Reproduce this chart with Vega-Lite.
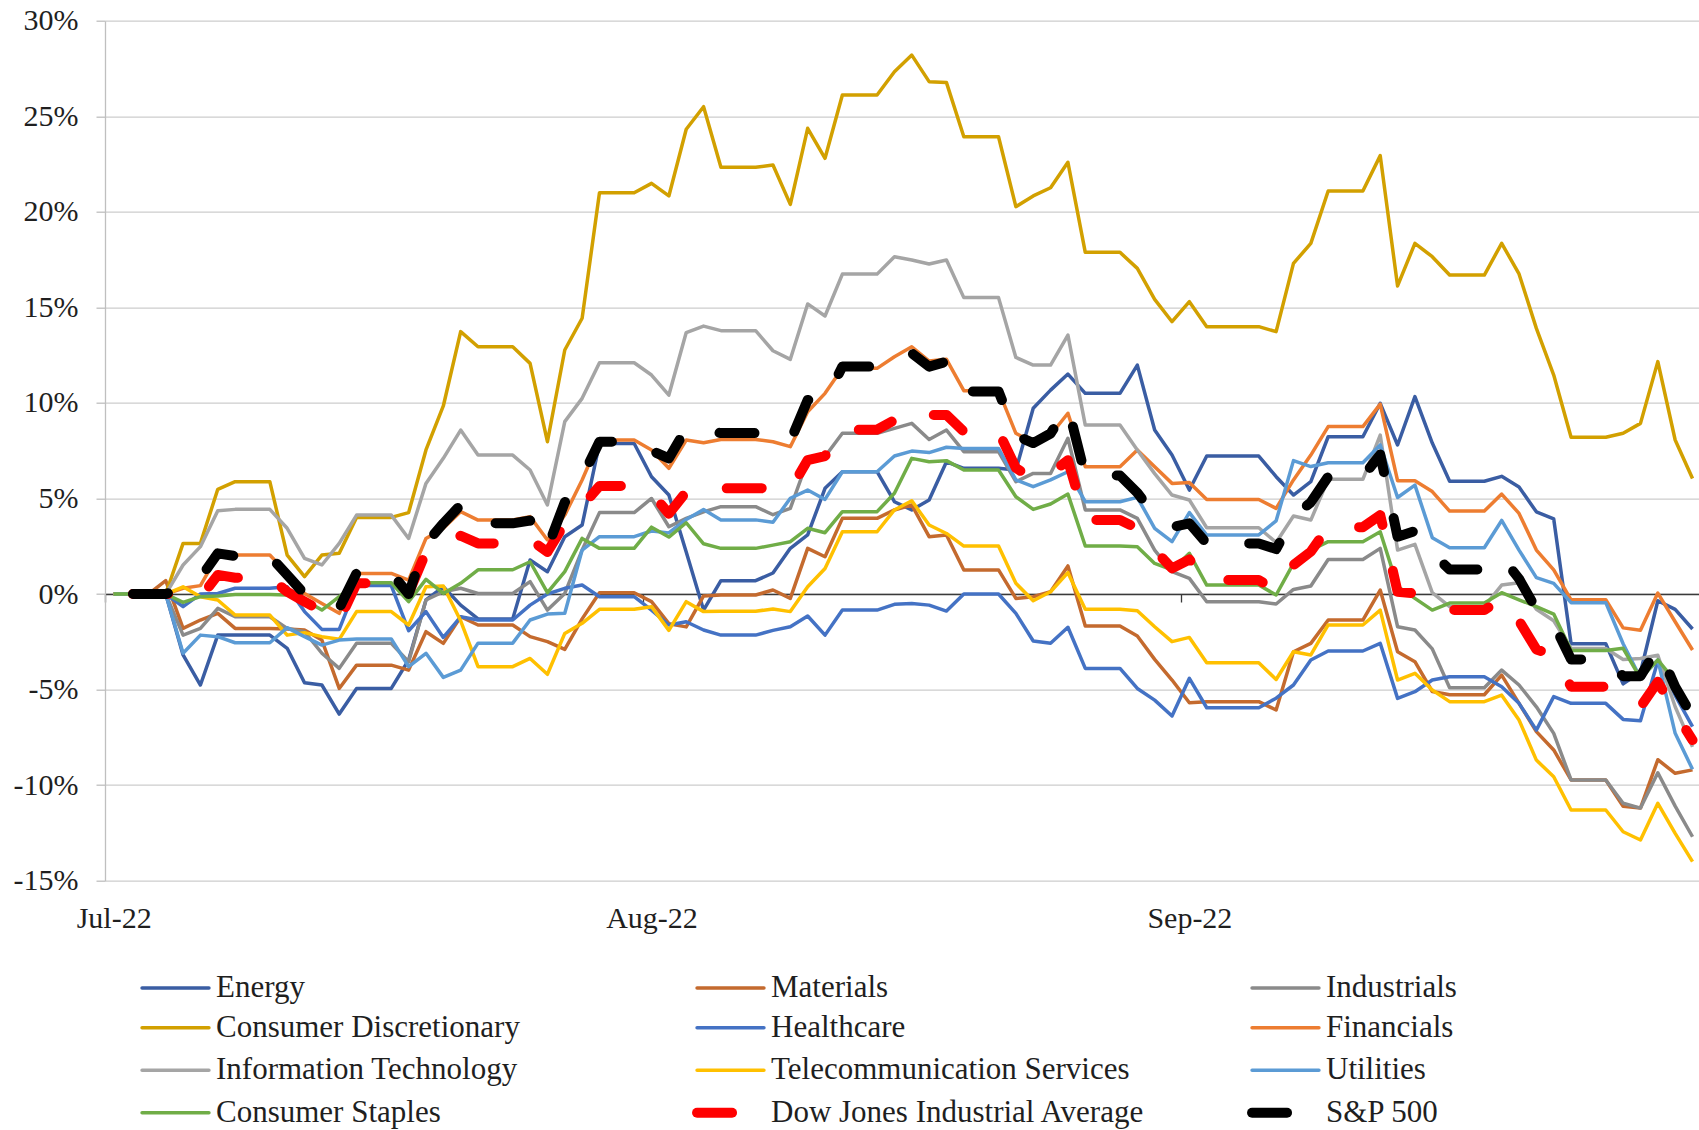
{
"$schema": "https://vega.github.io/schema/vega-lite/v6.json",
"width": 1594, "height": 860,
"autosize": "none",
"padding": {"left": 105, "top": 20.7, "right": 0, "bottom": 249.3},
"config": {"view": {"stroke": null}, "font": "Liberation Serif"},
"data": {"values": [
{"d":"2022-07-01","Energy":0,"Materials":0,"Industrials":0,"Consumer Discretionary":0,"Healthcare":0,"Financials":0,"Information Technology":0,"Telecommunication Services":0,"Utilities":0,"Consumer Staples":0,"Dow Jones Industrial Average":0,"S&P 500":0},
{"d":"2022-07-02","Energy":0,"Materials":0,"Industrials":0,"Consumer Discretionary":0,"Healthcare":0,"Financials":0,"Information Technology":0,"Telecommunication Services":0,"Utilities":0,"Consumer Staples":0,"Dow Jones Industrial Average":0,"S&P 500":0},
{"d":"2022-07-03","Energy":0,"Materials":0,"Industrials":0,"Consumer Discretionary":0,"Healthcare":0,"Financials":0,"Information Technology":0,"Telecommunication Services":0,"Utilities":0,"Consumer Staples":0,"Dow Jones Industrial Average":0,"S&P 500":0},
{"d":"2022-07-04","Energy":0,"Materials":0.7,"Industrials":0,"Consumer Discretionary":0,"Healthcare":0,"Financials":0,"Information Technology":0,"Telecommunication Services":0,"Utilities":0,"Consumer Staples":0,"Dow Jones Industrial Average":0,"S&P 500":0},
{"d":"2022-07-05","Energy":-3.19,"Materials":-1.8,"Industrials":-2.15,"Consumer Discretionary":2.65,"Healthcare":-0.66,"Financials":0.3,"Information Technology":1.52,"Telecommunication Services":0.38,"Utilities":-3.1,"Consumer Staples":-0.44,"Dow Jones Industrial Average":0,"S&P 500":0.3},
{"d":"2022-07-06","Energy":-4.76,"Materials":-1.36,"Industrials":-1.8,"Consumer Discretionary":2.65,"Healthcare":0,"Financials":0.44,"Information Technology":2.48,"Telecommunication Services":-0.14,"Utilities":-2.15,"Consumer Staples":-0.14,"Dow Jones Industrial Average":-0.2,"S&P 500":0.85},
{"d":"2022-07-07","Energy":-2.15,"Materials":-1.01,"Industrials":-0.75,"Consumer Discretionary":5.48,"Healthcare":0.03,"Financials":2.04,"Information Technology":4.36,"Telecommunication Services":-0.31,"Utilities":-2.23,"Consumer Staples":-0.1,"Dow Jones Industrial Average":1,"S&P 500":2.13},
{"d":"2022-07-08","Energy":-2.15,"Materials":-1.8,"Industrials":-1.19,"Consumer Discretionary":5.88,"Healthcare":0.3,"Financials":2.04,"Information Technology":4.43,"Telecommunication Services":-1.1,"Utilities":-2.55,"Consumer Staples":-0.02,"Dow Jones Industrial Average":0.85,"S&P 500":1.99},
{"d":"2022-07-09","Energy":-2.15,"Materials":-1.8,"Industrials":-1.19,"Consumer Discretionary":5.88,"Healthcare":0.3,"Financials":2.04,"Information Technology":4.43,"Telecommunication Services":-1.1,"Utilities":-2.55,"Consumer Staples":-0.02,"Dow Jones Industrial Average":0.85,"S&P 500":1.99},
{"d":"2022-07-10","Energy":-2.15,"Materials":-1.8,"Industrials":-1.19,"Consumer Discretionary":5.88,"Healthcare":0.3,"Financials":2.04,"Information Technology":4.43,"Telecommunication Services":-1.1,"Utilities":-2.55,"Consumer Staples":-0.02,"Dow Jones Industrial Average":0.85,"S&P 500":1.99},
{"d":"2022-07-11","Energy":-2.84,"Materials":-1.83,"Industrials":-1.8,"Consumer Discretionary":2.04,"Healthcare":0.38,"Financials":1.08,"Information Technology":3.44,"Telecommunication Services":-2.15,"Utilities":-1.76,"Consumer Staples":-0.05,"Dow Jones Industrial Average":0.12,"S&P 500":1},
{"d":"2022-07-12","Energy":-4.64,"Materials":-1.88,"Industrials":-1.97,"Consumer Discretionary":0.91,"Healthcare":-0.92,"Financials":0.03,"Information Technology":1.87,"Telecommunication Services":-2.02,"Utilities":-2.23,"Consumer Staples":-0.31,"Dow Jones Industrial Average":-0.4,"S&P 500":0},
{"d":"2022-07-13","Energy":-4.76,"Materials":-2.41,"Industrials":-3.1,"Consumer Discretionary":2.04,"Healthcare":-1.85,"Financials":-0.49,"Information Technology":1.52,"Telecommunication Services":-2.23,"Utilities":-2.67,"Consumer Staples":-0.84,"Dow Jones Industrial Average":-0.9,"S&P 500":-0.4},
{"d":"2022-07-14","Energy":-6.28,"Materials":-4.94,"Industrials":-3.89,"Consumer Discretionary":2.13,"Healthcare":-1.85,"Financials":-1.01,"Information Technology":2.65,"Telecommunication Services":-2.37,"Utilities":-2.41,"Consumer Staples":-0.14,"Dow Jones Industrial Average":-1.4,"S&P 500":-0.75},
{"d":"2022-07-15","Energy":-4.94,"Materials":-3.72,"Industrials":-2.58,"Consumer Discretionary":4.01,"Healthcare":0.44,"Financials":1.08,"Information Technology":4.13,"Telecommunication Services":-0.92,"Utilities":-2.35,"Consumer Staples":0.59,"Dow Jones Industrial Average":0.56,"S&P 500":1.1},
{"d":"2022-07-16","Energy":-4.94,"Materials":-3.72,"Industrials":-2.58,"Consumer Discretionary":4.01,"Healthcare":0.44,"Financials":1.08,"Information Technology":4.13,"Telecommunication Services":-0.92,"Utilities":-2.35,"Consumer Staples":0.59,"Dow Jones Industrial Average":0.56,"S&P 500":1.1},
{"d":"2022-07-17","Energy":-4.94,"Materials":-3.72,"Industrials":-2.58,"Consumer Discretionary":4.01,"Healthcare":0.44,"Financials":1.08,"Information Technology":4.13,"Telecommunication Services":-0.92,"Utilities":-2.35,"Consumer Staples":0.59,"Dow Jones Industrial Average":0.56,"S&P 500":1.1},
{"d":"2022-07-18","Energy":-3.45,"Materials":-3.98,"Industrials":-3.54,"Consumer Discretionary":4.26,"Healthcare":-1.92,"Financials":0.73,"Information Technology":2.91,"Telecommunication Services":-1.62,"Utilities":-3.8,"Consumer Staples":-0.4,"Dow Jones Industrial Average":0.03,"S&P 500":0},
{"d":"2022-07-19","Energy":-0.31,"Materials":-1.97,"Industrials":-0.31,"Consumer Discretionary":7.54,"Healthcare":-0.92,"Financials":2.91,"Information Technology":5.79,"Telecommunication Services":0.38,"Utilities":-3.1,"Consumer Staples":0.77,"Dow Jones Industrial Average":2.2,"S&P 500":2.65},
{"d":"2022-07-20","Energy":0.38,"Materials":-2.58,"Industrials":0.12,"Consumer Discretionary":9.84,"Healthcare":-2.27,"Financials":3.44,"Information Technology":7.1,"Telecommunication Services":0.42,"Utilities":-4.36,"Consumer Staples":0.03,"Dow Jones Industrial Average":2.5,"S&P 500":3.7},
{"d":"2022-07-21","Energy":-0.58,"Materials":-1.19,"Industrials":0.3,"Consumer Discretionary":13.73,"Healthcare":-1.19,"Financials":4.31,"Information Technology":8.58,"Telecommunication Services":-1.4,"Utilities":-3.98,"Consumer Staples":0.56,"Dow Jones Industrial Average":3.05,"S&P 500":4.66},
{"d":"2022-07-22","Energy":-1.3,"Materials":-1.62,"Industrials":0.03,"Consumer Discretionary":12.94,"Healthcare":-1.36,"Financials":3.87,"Information Technology":7.27,"Telecommunication Services":-3.8,"Utilities":-2.57,"Consumer Staples":1.27,"Dow Jones Industrial Average":2.65,"S&P 500":3.7},
{"d":"2022-07-23","Energy":-1.3,"Materials":-1.62,"Industrials":0.03,"Consumer Discretionary":12.94,"Healthcare":-1.36,"Financials":3.87,"Information Technology":7.27,"Telecommunication Services":-3.8,"Utilities":-2.57,"Consumer Staples":1.27,"Dow Jones Industrial Average":2.65,"S&P 500":3.7},
{"d":"2022-07-24","Energy":-1.3,"Materials":-1.62,"Industrials":0.03,"Consumer Discretionary":12.94,"Healthcare":-1.36,"Financials":3.87,"Information Technology":7.27,"Telecommunication Services":-3.8,"Utilities":-2.57,"Consumer Staples":1.27,"Dow Jones Industrial Average":2.65,"S&P 500":3.7},
{"d":"2022-07-25","Energy":1.78,"Materials":-2.23,"Industrials":0.65,"Consumer Discretionary":12.07,"Healthcare":-0.58,"Financials":4.05,"Information Technology":6.49,"Telecommunication Services":-3.37,"Utilities":-1.36,"Consumer Staples":1.69,"Dow Jones Industrial Average":2.85,"S&P 500":3.85},
{"d":"2022-07-26","Energy":1.17,"Materials":-2.49,"Industrials":-0.84,"Consumer Discretionary":7.97,"Healthcare":0,"Financials":2.83,"Information Technology":4.66,"Telecommunication Services":-4.2,"Utilities":-1.05,"Consumer Staples":0.07,"Dow Jones Industrial Average":2.2,"S&P 500":2.4},
{"d":"2022-07-27","Energy":3,"Materials":-2.9,"Industrials":0.03,"Consumer Discretionary":12.77,"Healthcare":0.3,"Financials":4.13,"Information Technology":9.02,"Telecommunication Services":-2.06,"Utilities":-1.01,"Consumer Staples":1.17,"Dow Jones Industrial Average":3.7,"S&P 500":4.8},
{"d":"2022-07-28","Energy":3.61,"Materials":-1.3,"Industrials":2.3,"Consumer Discretionary":14.43,"Healthcare":0.47,"Financials":5.97,"Information Technology":10.24,"Telecommunication Services":-1.53,"Utilities":2.3,"Consumer Staples":2.91,"Dow Jones Industrial Average":4.6,"S&P 500":6.1},
{"d":"2022-07-29","Energy":7.88,"Materials":0.07,"Industrials":4.26,"Consumer Discretionary":21,"Healthcare":-0.14,"Financials":8.06,"Information Technology":12.1,"Telecommunication Services":-0.8,"Utilities":3,"Consumer Staples":2.39,"Dow Jones Industrial Average":5.65,"S&P 500":7.97},
{"d":"2022-07-30","Energy":7.88,"Materials":0.07,"Industrials":4.26,"Consumer Discretionary":21,"Healthcare":-0.14,"Financials":8.06,"Information Technology":12.1,"Telecommunication Services":-0.8,"Utilities":3,"Consumer Staples":2.39,"Dow Jones Industrial Average":5.65,"S&P 500":7.97},
{"d":"2022-07-31","Energy":7.88,"Materials":0.07,"Industrials":4.26,"Consumer Discretionary":21,"Healthcare":-0.14,"Financials":8.06,"Information Technology":12.1,"Telecommunication Services":-0.8,"Utilities":3,"Consumer Staples":2.39,"Dow Jones Industrial Average":5.65,"S&P 500":7.97},
{"d":"2022-08-01","Energy":6.14,"Materials":-0.4,"Industrials":5,"Consumer Discretionary":21.49,"Healthcare":-0.84,"Financials":7.54,"Information Technology":11.46,"Telecommunication Services":-0.66,"Utilities":3.3,"Consumer Staples":3.5,"Dow Jones Industrial Average":5.3,"S&P 500":7.5},
{"d":"2022-08-02","Energy":5.18,"Materials":-1.55,"Industrials":3.52,"Consumer Discretionary":20.83,"Healthcare":-1.62,"Financials":6.58,"Information Technology":10.41,"Telecommunication Services":-1.9,"Utilities":3.2,"Consumer Staples":2.98,"Dow Jones Industrial Average":4.2,"S&P 500":7.1},
{"d":"2022-08-03","Energy":2.2,"Materials":-1.72,"Industrials":3.96,"Consumer Discretionary":24.32,"Healthcare":-1.45,"Financials":8.06,"Information Technology":13.68,"Telecommunication Services":-0.4,"Utilities":3.9,"Consumer Staples":3.73,"Dow Jones Industrial Average":5.35,"S&P 500":8.67},
{"d":"2022-08-04","Energy":-0.84,"Materials":-0.1,"Industrials":4.3,"Consumer Discretionary":25.5,"Healthcare":-1.88,"Financials":7.92,"Information Technology":14.02,"Telecommunication Services":-0.92,"Utilities":4.42,"Consumer Staples":2.63,"Dow Jones Industrial Average":5.2,"S&P 500":8.58},
{"d":"2022-08-05","Energy":0.7,"Materials":-0.05,"Industrials":4.57,"Consumer Discretionary":22.33,"Healthcare":-2.15,"Financials":8.09,"Information Technology":13.78,"Telecommunication Services":-0.9,"Utilities":3.88,"Consumer Staples":2.39,"Dow Jones Industrial Average":5.53,"S&P 500":8.42},
{"d":"2022-08-06","Energy":0.7,"Materials":-0.05,"Industrials":4.57,"Consumer Discretionary":22.33,"Healthcare":-2.15,"Financials":8.09,"Information Technology":13.78,"Telecommunication Services":-0.9,"Utilities":3.88,"Consumer Staples":2.39,"Dow Jones Industrial Average":5.53,"S&P 500":8.42},
{"d":"2022-08-07","Energy":0.7,"Materials":-0.05,"Industrials":4.57,"Consumer Discretionary":22.33,"Healthcare":-2.15,"Financials":8.09,"Information Technology":13.78,"Telecommunication Services":-0.9,"Utilities":3.88,"Consumer Staples":2.39,"Dow Jones Industrial Average":5.53,"S&P 500":8.42},
{"d":"2022-08-08","Energy":1.1,"Materials":0.21,"Industrials":4.15,"Consumer Discretionary":22.45,"Healthcare":-1.9,"Financials":7.97,"Information Technology":12.73,"Telecommunication Services":-0.78,"Utilities":3.76,"Consumer Staples":2.56,"Dow Jones Industrial Average":5.55,"S&P 500":8.23},
{"d":"2022-08-09","Energy":2.39,"Materials":-0.23,"Industrials":4.48,"Consumer Discretionary":20.39,"Healthcare":-1.71,"Financials":7.71,"Information Technology":12.28,"Telecommunication Services":-0.92,"Utilities":5.01,"Consumer Staples":2.74,"Dow Jones Industrial Average":5.45,"S&P 500":8},
{"d":"2022-08-10","Energy":3.09,"Materials":2.39,"Industrials":7,"Consumer Discretionary":24.37,"Healthcare":-1.15,"Financials":9.54,"Information Technology":15.18,"Telecommunication Services":0.38,"Utilities":5.44,"Consumer Staples":3.44,"Dow Jones Industrial Average":7.01,"S&P 500":10.15},
{"d":"2022-08-11","Energy":5.53,"Materials":1.95,"Industrials":7.2,"Consumer Discretionary":22.8,"Healthcare":-2.15,"Financials":10.5,"Information Technology":14.55,"Telecommunication Services":1.34,"Utilities":4.95,"Consumer Staples":3.21,"Dow Jones Industrial Average":7.22,"S&P 500":10.1},
{"d":"2022-08-12","Energy":6.4,"Materials":3.96,"Industrials":8.41,"Consumer Discretionary":26.11,"Healthcare":-0.84,"Financials":11.81,"Information Technology":16.74,"Telecommunication Services":3.26,"Utilities":6.4,"Consumer Staples":4.31,"Dow Jones Industrial Average":8.6,"S&P 500":11.9},
{"d":"2022-08-13","Energy":6.4,"Materials":3.96,"Industrials":8.41,"Consumer Discretionary":26.11,"Healthcare":-0.84,"Financials":11.81,"Information Technology":16.74,"Telecommunication Services":3.26,"Utilities":6.4,"Consumer Staples":4.31,"Dow Jones Industrial Average":8.6,"S&P 500":11.9},
{"d":"2022-08-14","Energy":6.4,"Materials":3.96,"Industrials":8.41,"Consumer Discretionary":26.11,"Healthcare":-0.84,"Financials":11.81,"Information Technology":16.74,"Telecommunication Services":3.26,"Utilities":6.4,"Consumer Staples":4.31,"Dow Jones Industrial Average":8.6,"S&P 500":11.9},
{"d":"2022-08-15","Energy":4.83,"Materials":4.4,"Industrials":8.67,"Consumer Discretionary":27.33,"Healthcare":-0.54,"Financials":12.42,"Information Technology":17.65,"Telecommunication Services":4.4,"Utilities":7.22,"Consumer Staples":5.27,"Dow Jones Industrial Average":9.1,"S&P 500":12.4},
{"d":"2022-08-16","Energy":4.4,"Materials":4.66,"Industrials":8.93,"Consumer Discretionary":28.2,"Healthcare":-0.49,"Financials":12.94,"Information Technology":17.48,"Telecommunication Services":4.88,"Utilities":7.48,"Consumer Staples":7.1,"Dow Jones Industrial Average":9.7,"S&P 500":12.6},
{"d":"2022-08-17","Energy":4.92,"Materials":3,"Industrials":8.09,"Consumer Discretionary":26.81,"Healthcare":-0.58,"Financials":12.19,"Information Technology":17.27,"Telecommunication Services":3.61,"Utilities":7.4,"Consumer Staples":6.92,"Dow Jones Industrial Average":9.37,"S&P 500":11.9},
{"d":"2022-08-18","Energy":6.92,"Materials":3.09,"Industrials":8.58,"Consumer Discretionary":26.76,"Healthcare":-0.89,"Financials":12.28,"Information Technology":17.48,"Telecommunication Services":3.17,"Utilities":7.68,"Consumer Staples":6.98,"Dow Jones Industrial Average":9.37,"S&P 500":12.16},
{"d":"2022-08-19","Energy":6.58,"Materials":1.26,"Industrials":7.45,"Consumer Discretionary":23.93,"Healthcare":0,"Financials":10.64,"Information Technology":15.51,"Telecommunication Services":2.51,"Utilities":7.62,"Consumer Staples":6.49,"Dow Jones Industrial Average":8.5,"S&P 500":10.6},
{"d":"2022-08-20","Energy":6.58,"Materials":1.26,"Industrials":7.45,"Consumer Discretionary":23.93,"Healthcare":0,"Financials":10.64,"Information Technology":15.51,"Telecommunication Services":2.51,"Utilities":7.62,"Consumer Staples":6.49,"Dow Jones Industrial Average":8.5,"S&P 500":10.6},
{"d":"2022-08-21","Energy":6.58,"Materials":1.26,"Industrials":7.45,"Consumer Discretionary":23.93,"Healthcare":0,"Financials":10.64,"Information Technology":15.51,"Telecommunication Services":2.51,"Utilities":7.62,"Consumer Staples":6.49,"Dow Jones Industrial Average":8.5,"S&P 500":10.6},
{"d":"2022-08-22","Energy":6.49,"Materials":-0.23,"Industrials":5.88,"Consumer Discretionary":20.27,"Healthcare":-1.01,"Financials":8.41,"Information Technology":12.38,"Telecommunication Services":0.56,"Utilities":5.97,"Consumer Staples":5.09,"Dow Jones Industrial Average":6.6,"S&P 500":8.3},
{"d":"2022-08-23","Energy":9.72,"Materials":-0.14,"Industrials":6.31,"Consumer Discretionary":20.83,"Healthcare":-2.46,"Financials":7.92,"Information Technology":11.98,"Telecommunication Services":-0.35,"Utilities":5.62,"Consumer Staples":4.43,"Dow Jones Industrial Average":6,"S&P 500":7.9},
{"d":"2022-08-24","Energy":10.67,"Materials":0.12,"Industrials":6.31,"Consumer Discretionary":21.26,"Healthcare":-2.58,"Financials":8.32,"Information Technology":11.98,"Telecommunication Services":0.12,"Utilities":5.97,"Consumer Staples":4.71,"Dow Jones Industrial Average":6.3,"S&P 500":8.4},
{"d":"2022-08-25","Energy":11.51,"Materials":1.47,"Industrials":8.15,"Consumer Discretionary":22.59,"Healthcare":-1.74,"Financials":9.46,"Information Technology":13.55,"Telecommunication Services":1.12,"Utilities":6.4,"Consumer Staples":5.23,"Dow Jones Industrial Average":7,"S&P 500":9.8},
{"d":"2022-08-26","Energy":10.5,"Materials":-1.67,"Industrials":4.4,"Consumer Discretionary":17.88,"Healthcare":-3.89,"Financials":6.66,"Information Technology":8.84,"Telecommunication Services":-0.8,"Utilities":4.83,"Consumer Staples":2.51,"Dow Jones Industrial Average":3.87,"S&P 500":6.2},
{"d":"2022-08-27","Energy":10.5,"Materials":-1.67,"Industrials":4.4,"Consumer Discretionary":17.88,"Healthcare":-3.89,"Financials":6.66,"Information Technology":8.84,"Telecommunication Services":-0.8,"Utilities":4.83,"Consumer Staples":2.51,"Dow Jones Industrial Average":3.87,"S&P 500":6.2},
{"d":"2022-08-28","Energy":10.5,"Materials":-1.67,"Industrials":4.4,"Consumer Discretionary":17.88,"Healthcare":-3.89,"Financials":6.66,"Information Technology":8.84,"Telecommunication Services":-0.8,"Utilities":4.83,"Consumer Staples":2.51,"Dow Jones Industrial Average":3.87,"S&P 500":6.2},
{"d":"2022-08-29","Energy":11.98,"Materials":-2.2,"Industrials":3.96,"Consumer Discretionary":17.04,"Healthcare":-4.94,"Financials":7.54,"Information Technology":7.54,"Telecommunication Services":-0.87,"Utilities":5.06,"Consumer Staples":2.48,"Dow Jones Industrial Average":3.44,"S&P 500":5.3},
{"d":"2022-08-30","Energy":8.58,"Materials":-3.42,"Industrials":2.3,"Consumer Discretionary":15.42,"Healthcare":-5.55,"Financials":6.66,"Information Technology":6.3,"Telecommunication Services":-1.71,"Utilities":3.44,"Consumer Staples":1.6,"Dow Jones Industrial Average":2.3,"S&P 500":4.1},
{"d":"2022-08-31","Energy":7.27,"Materials":-4.5,"Industrials":1.17,"Consumer Discretionary":14.25,"Healthcare":-6.38,"Financials":5.79,"Information Technology":5.18,"Telecommunication Services":-2.49,"Utilities":2.74,"Consumer Staples":1.26,"Dow Jones Industrial Average":1.34,"S&P 500":3.5},
{"d":"2022-09-01","Energy":5.44,"Materials":-5.69,"Industrials":0.82,"Consumer Discretionary":15.3,"Healthcare":-4.41,"Financials":5.83,"Information Technology":4.92,"Telecommunication Services":-2.27,"Utilities":4.26,"Consumer Staples":2.13,"Dow Jones Industrial Average":1.81,"S&P 500":3.7},
{"d":"2022-09-02","Energy":7.22,"Materials":-5.63,"Industrials":-0.4,"Consumer Discretionary":13.99,"Healthcare":-5.95,"Financials":4.95,"Information Technology":3.47,"Telecommunication Services":-3.59,"Utilities":3.09,"Consumer Staples":0.47,"Dow Jones Industrial Average":0.73,"S&P 500":2.65},
{"d":"2022-09-03","Energy":7.22,"Materials":-5.63,"Industrials":-0.4,"Consumer Discretionary":13.99,"Healthcare":-5.95,"Financials":4.95,"Information Technology":3.47,"Telecommunication Services":-3.59,"Utilities":3.09,"Consumer Staples":0.47,"Dow Jones Industrial Average":0.73,"S&P 500":2.65},
{"d":"2022-09-04","Energy":7.22,"Materials":-5.63,"Industrials":-0.4,"Consumer Discretionary":13.99,"Healthcare":-5.95,"Financials":4.95,"Information Technology":3.47,"Telecommunication Services":-3.59,"Utilities":3.09,"Consumer Staples":0.47,"Dow Jones Industrial Average":0.73,"S&P 500":2.65},
{"d":"2022-09-05","Energy":7.22,"Materials":-5.63,"Industrials":-0.4,"Consumer Discretionary":13.99,"Healthcare":-5.95,"Financials":4.95,"Information Technology":3.47,"Telecommunication Services":-3.59,"Utilities":3.09,"Consumer Staples":0.47,"Dow Jones Industrial Average":0.73,"S&P 500":2.65},
{"d":"2022-09-06","Energy":6.14,"Materials":-6.07,"Industrials":-0.52,"Consumer Discretionary":13.73,"Healthcare":-5.45,"Financials":4.48,"Information Technology":2.7,"Telecommunication Services":-4.47,"Utilities":3.83,"Consumer Staples":-0.05,"Dow Jones Industrial Average":0.2,"S&P 500":2.35},
{"d":"2022-09-07","Energy":5.18,"Materials":-3.02,"Industrials":0.24,"Consumer Discretionary":17.3,"Healthcare":-4.76,"Financials":5.97,"Information Technology":4.08,"Telecommunication Services":-3.02,"Utilities":6.98,"Consumer Staples":1.6,"Dow Jones Industrial Average":1.52,"S&P 500":4.05},
{"d":"2022-09-08","Energy":5.88,"Materials":-2.58,"Industrials":0.42,"Consumer Discretionary":18.35,"Healthcare":-3.45,"Financials":7.27,"Information Technology":3.87,"Telecommunication Services":-3.19,"Utilities":6.67,"Consumer Staples":2.3,"Dow Jones Industrial Average":2.22,"S&P 500":4.8},
{"d":"2022-09-09","Energy":8.23,"Materials":-1.36,"Industrials":1.81,"Consumer Discretionary":21.09,"Healthcare":-2.98,"Financials":8.76,"Information Technology":6,"Telecommunication Services":-1.62,"Utilities":6.87,"Consumer Staples":2.74,"Dow Jones Industrial Average":3.5,"S&P 500":6.14},
{"d":"2022-09-10","Energy":8.23,"Materials":-1.36,"Industrials":1.81,"Consumer Discretionary":21.09,"Healthcare":-2.98,"Financials":8.76,"Information Technology":6,"Telecommunication Services":-1.62,"Utilities":6.87,"Consumer Staples":2.74,"Dow Jones Industrial Average":3.5,"S&P 500":6.14},
{"d":"2022-09-11","Energy":8.23,"Materials":-1.36,"Industrials":1.81,"Consumer Discretionary":21.09,"Healthcare":-2.98,"Financials":8.76,"Information Technology":6,"Telecommunication Services":-1.62,"Utilities":6.87,"Consumer Staples":2.74,"Dow Jones Industrial Average":3.5,"S&P 500":6.14},
{"d":"2022-09-12","Energy":9.98,"Materials":0.21,"Industrials":2.39,"Consumer Discretionary":22.94,"Healthcare":-2.58,"Financials":9.94,"Information Technology":8.32,"Telecommunication Services":-0.84,"Utilities":7.8,"Consumer Staples":3.26,"Dow Jones Industrial Average":4.13,"S&P 500":7.3},
{"d":"2022-09-13","Energy":7.8,"Materials":-3.02,"Industrials":-1.71,"Consumer Discretionary":16.12,"Healthcare":-5.46,"Financials":5.93,"Information Technology":2.3,"Telecommunication Services":-4.5,"Utilities":5.05,"Consumer Staples":0.4,"Dow Jones Industrial Average":0.12,"S&P 500":3},
{"d":"2022-09-14","Energy":10.33,"Materials":-3.54,"Industrials":-1.88,"Consumer Discretionary":18.35,"Healthcare":-5.11,"Financials":5.93,"Information Technology":2.6,"Telecommunication Services":-4.15,"Utilities":5.7,"Consumer Staples":-0.23,"Dow Jones Industrial Average":0.03,"S&P 500":3.3},
{"d":"2022-09-15","Energy":7.9,"Materials":-5.1,"Industrials":-2.87,"Consumer Discretionary":17.65,"Healthcare":-4.5,"Financials":5.36,"Information Technology":0.07,"Telecommunication Services":-5.02,"Utilities":2.95,"Consumer Staples":-0.84,"Dow Jones Industrial Average":-0.4,"S&P 500":2.15},
{"d":"2022-09-16","Energy":5.9,"Materials":-5.27,"Industrials":-4.9,"Consumer Discretionary":16.69,"Healthcare":-4.33,"Financials":4.34,"Information Technology":-0.66,"Telecommunication Services":-5.63,"Utilities":2.42,"Consumer Staples":-0.47,"Dow Jones Industrial Average":-0.84,"S&P 500":1.28},
{"d":"2022-09-17","Energy":5.9,"Materials":-5.27,"Industrials":-4.9,"Consumer Discretionary":16.69,"Healthcare":-4.33,"Financials":4.34,"Information Technology":-0.66,"Telecommunication Services":-5.63,"Utilities":2.42,"Consumer Staples":-0.47,"Dow Jones Industrial Average":-0.84,"S&P 500":1.28},
{"d":"2022-09-18","Energy":5.9,"Materials":-5.27,"Industrials":-4.9,"Consumer Discretionary":16.69,"Healthcare":-4.33,"Financials":4.34,"Information Technology":-0.66,"Telecommunication Services":-5.63,"Utilities":2.42,"Consumer Staples":-0.47,"Dow Jones Industrial Average":-0.84,"S&P 500":1.28},
{"d":"2022-09-19","Energy":6.16,"Materials":-4.24,"Industrials":-3.98,"Consumer Discretionary":18.35,"Healthcare":-4.85,"Financials":5.23,"Information Technology":0.47,"Telecommunication Services":-5.29,"Utilities":3.85,"Consumer Staples":0.07,"Dow Jones Industrial Average":-0.25,"S&P 500":1.95},
{"d":"2022-09-20","Energy":5.6,"Materials":-5.72,"Industrials":-4.76,"Consumer Discretionary":16.75,"Healthcare":-5.72,"Financials":4.22,"Information Technology":0.59,"Telecommunication Services":-6.59,"Utilities":2.3,"Consumer Staples":-0.3,"Dow Jones Industrial Average":-1.4,"S&P 500":0.8},
{"d":"2022-09-21","Energy":4.3,"Materials":-7.2,"Industrials":-5.9,"Consumer Discretionary":13.9,"Healthcare":-7.12,"Financials":2.3,"Information Technology":-0.8,"Telecommunication Services":-8.69,"Utilities":0.86,"Consumer Staples":-0.66,"Dow Jones Industrial Average":-2.9,"S&P 500":-0.8},
{"d":"2022-09-22","Energy":3.93,"Materials":-8.16,"Industrials":-7.29,"Consumer Discretionary":11.46,"Healthcare":-5.37,"Financials":1.26,"Information Technology":-1.4,"Telecommunication Services":-9.56,"Utilities":0.56,"Consumer Staples":-1.05,"Dow Jones Industrial Average":-3.19,"S&P 500":-1.55},
{"d":"2022-09-23","Energy":-2.6,"Materials":-9.73,"Industrials":-9.73,"Consumer Discretionary":8.2,"Healthcare":-5.72,"Financials":-0.3,"Information Technology":-2.85,"Telecommunication Services":-11.3,"Utilities":-0.45,"Consumer Staples":-2.95,"Dow Jones Industrial Average":-4.85,"S&P 500":-3.42},
{"d":"2022-09-24","Energy":-2.6,"Materials":-9.73,"Industrials":-9.73,"Consumer Discretionary":8.2,"Healthcare":-5.72,"Financials":-0.3,"Information Technology":-2.85,"Telecommunication Services":-11.3,"Utilities":-0.45,"Consumer Staples":-2.95,"Dow Jones Industrial Average":-4.85,"S&P 500":-3.42},
{"d":"2022-09-25","Energy":-2.6,"Materials":-9.73,"Industrials":-9.73,"Consumer Discretionary":8.2,"Healthcare":-5.72,"Financials":-0.3,"Information Technology":-2.85,"Telecommunication Services":-11.3,"Utilities":-0.45,"Consumer Staples":-2.95,"Dow Jones Industrial Average":-4.85,"S&P 500":-3.42},
{"d":"2022-09-26","Energy":-4.7,"Materials":-11.1,"Industrials":-10.95,"Consumer Discretionary":8.41,"Healthcare":-6.56,"Financials":-1.77,"Information Technology":-3.42,"Telecommunication Services":-12.44,"Utilities":-2.6,"Consumer Staples":-2.84,"Dow Jones Industrial Average":-5.4,"S&P 500":-4.3},
{"d":"2022-09-27","Energy":-4.1,"Materials":-11.2,"Industrials":-11.2,"Consumer Discretionary":8.93,"Healthcare":-6.63,"Financials":-1.9,"Information Technology":-3.37,"Telecommunication Services":-12.87,"Utilities":-4.4,"Consumer Staples":-4.41,"Dow Jones Industrial Average":-5.9,"S&P 500":-4.3},
{"d":"2022-09-28","Energy":-0.35,"Materials":-8.67,"Industrials":-9.35,"Consumer Discretionary":12.16,"Healthcare":-3.5,"Financials":0.05,"Information Technology":-3.2,"Telecommunication Services":-10.95,"Utilities":-3.45,"Consumer Staples":-3.45,"Dow Jones Industrial Average":-4.59,"S&P 500":-2.8},
{"d":"2022-09-29","Energy":-0.8,"Materials":-9.38,"Industrials":-11.1,"Consumer Discretionary":8.06,"Healthcare":-5.3,"Financials":-1.45,"Information Technology":-5.9,"Telecommunication Services":-12.52,"Utilities":-7.29,"Consumer Staples":-4.55,"Dow Jones Industrial Average":-6.2,"S&P 500":-4.85},
{"d":"2022-09-30","Energy":-1.83,"Materials":-9.2,"Industrials":-12.7,"Consumer Discretionary":6.05,"Healthcare":-6.94,"Financials":-2.93,"Information Technology":-8,"Telecommunication Services":-14,"Utilities":-9.17,"Consumer Staples":null,"Dow Jones Industrial Average":-7.64,"S&P 500":-6.42}
]},
"transform": [{"fold": ["Energy","Materials","Industrials","Consumer Discretionary","Healthcare","Financials","Information Technology","Telecommunication Services","Utilities","Consumer Staples","Dow Jones Industrial Average","S&P 500"], "as": ["k","v"]}],
"resolve": {"axis": {"x": "independent"}},
"layer": [
{
"transform": [{"filter": {"field": "k", "oneOf": ["Energy","Materials","Industrials","Consumer Discretionary","Healthcare","Financials","Information Technology","Telecommunication Services","Utilities","Consumer Staples"]}}],
"mark": {"type": "line", "strokeWidth": 3.5, "strokeJoin": "round"},
"encoding": {
"x": {"field": "d", "type": "temporal", "scale": {"type": "utc", "domain": [1656590400000, 1664528244000]},
"axis": {"orient": "bottom", "values": [1656633600000, 1659312000000, 1661990400000], "format": "%b-%y", "domain": false, "ticks": false, "grid": false, "labelFlush": false, "labelOverlap": false, "labelFont": "Liberation Serif", "labelFontSize": 30, "labelColor": "#1F1F1F", "labelPadding": 23, "title": null}},
"y": {"field": "v", "type": "quantitative", "scale": {"domain": [-15, 30], "nice": false, "zero": false},
"axis": {"values": [-15,-10,-5,0,5,10,15,20,25,30], "labelExpr": "datum.value + '%'", "title": null, "grid": true, "gridColor": "#CDCDCD", "gridWidth": 1.3, "domainColor": "#BFBFBF", "domainWidth": 1.3, "tickColor": "#BFBFBF", "tickWidth": 1.3, "tickSize": 9, "labelFlush": false, "labelFont": "Liberation Serif", "labelFontSize": 30, "labelColor": "#1F1F1F", "labelPadding": 18}},
"color": {"field": "k", "type": "nominal",
"scale": {"domain": ["Energy","Materials","Industrials","Consumer Discretionary","Healthcare","Financials","Information Technology","Telecommunication Services","Utilities","Consumer Staples","Dow Jones Industrial Average","S&P 500"],
"range": ["#3A5DA3","#C46A2E","#8A8A8A","#D2A000","#4472C4","#ED7D31","#A5A5A5","#FFC000","#5B9BD5","#70AD47","#FF0000","#000000"]},
"legend": {"orient": "none", "direction": "horizontal", "legendX": 55, "legendY": 949, "columns": 3, "gridAlign": "all", "columnPadding": 87, "rowPadding": 1.5, "padding": 0,
"symbolType": "M-2.23,0H2.23", "symbolSize": 900, "symbolStrokeWidth": 3.5, "labelOffset": 25,
"labelFont": "Liberation Serif", "labelFontSize": 31, "labelColor": "#1F1F1F", "labelLimit": 700, "title": null,
"encode": {"symbols": {"update": {
"strokeWidth": {"signal": "datum.value === 'Dow Jones Industrial Average' || datum.value === 'S&P 500' ? 10 : 3.5"},
"strokeDash": {"signal": "datum.value === 'Dow Jones Industrial Average' || datum.value === 'S&P 500' ? [35,47] : [1,0]"},
"strokeCap": {"value": "round"}}}}}}
}
},
{
"transform": [{"filter": {"field": "k", "oneOf": ["Dow Jones Industrial Average","S&P 500"]}}],
"mark": {"type": "line", "strokeWidth": 10, "strokeCap": "round", "strokeJoin": "round", "strokeDash": [35, 47], "strokeDashOffset": 62.7},
"encoding": {
"x": {"field": "d", "type": "temporal", "scale": {"type": "utc", "domain": [1656590400000, 1664528244000]}, "axis": null},
"y": {"field": "v", "type": "quantitative", "scale": {"domain": [-15, 30], "nice": false, "zero": false},
"axis": {"values": [-15,-10,-5,0,5,10,15,20,25,30], "labelExpr": "datum.value + '%'", "title": null, "grid": true, "gridColor": "#CDCDCD", "gridWidth": 1.3, "domainColor": "#BFBFBF", "domainWidth": 1.3, "tickColor": "#BFBFBF", "tickWidth": 1.3, "tickSize": 9, "labelFlush": false, "labelFont": "Liberation Serif", "labelFontSize": 30, "labelColor": "#1F1F1F", "labelPadding": 18}},
"color": {"field": "k", "type": "nominal",
"scale": {"domain": ["Energy","Materials","Industrials","Consumer Discretionary","Healthcare","Financials","Information Technology","Telecommunication Services","Utilities","Consumer Staples","Dow Jones Industrial Average","S&P 500"],
"range": ["#3A5DA3","#C46A2E","#8A8A8A","#D2A000","#4472C4","#ED7D31","#A5A5A5","#FFC000","#5B9BD5","#70AD47","#FF0000","#000000"]},
"legend": null}
}
},
{
"transform": [{"filter": {"field": "k", "equal": "Energy"}}],
"mark": {"type": "rule", "opacity": 0},
"encoding": {
"x": {"field": "d", "type": "temporal", "scale": {"type": "utc", "domain": [1656590400000, 1664528244000]},
"axis": {"orient": "bottom", "offset": -286.7, "values": [1656590400000, 1659268800000, 1661947200000], "labels": false, "grid": false, "domain": true, "domainColor": "#3A3A3A", "domainWidth": 1.3, "ticks": true, "tickColor": "#3A3A3A", "tickWidth": 1.3, "tickSize": 8, "title": null}}
}
}
]
}
